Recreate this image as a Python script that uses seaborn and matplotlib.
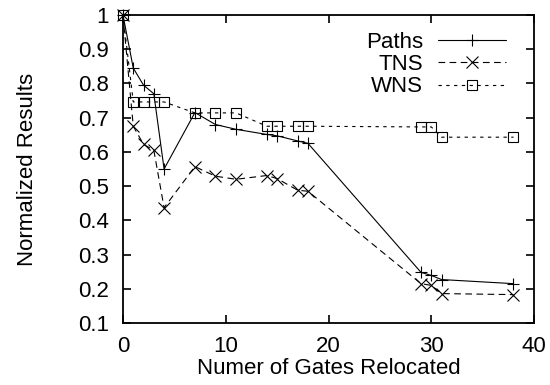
import matplotlib
matplotlib.use("Agg")
import matplotlib.pyplot as plt
import seaborn as sns

# values
gates = [0, 1, 2, 3, 4, 7, 9, 11, 14, 15, 17, 18, 29, 30, 31, 38]
paths = [1.0, 0.845, 0.795, 0.77, 0.55, 0.715, 0.68, 0.666, 0.651, 0.647,
         0.632, 0.625, 0.248, 0.239, 0.227, 0.215]
tns = [1.0, 0.675, 0.622, 0.605, 0.437, 0.557, 0.529, 0.52, 0.531, 0.522,
       0.488, 0.485, 0.215, 0.21, 0.186, 0.183]
wns = [1.0, 0.746, 0.746, 0.746, 0.746, 0.714, 0.714, 0.714, 0.675, 0.675,
       0.675, 0.675, 0.673, 0.673, 0.643, 0.643]

sns.set_style("ticks")
plt.rcParams["font.family"] = ["Liberation Sans", "DejaVu Sans"]
plt.rcParams["text.color"] = "black"
plt.rcParams["axes.labelcolor"] = "black"

fig = plt.figure(figsize=(5.5, 3.85), dpi=100)
ax = fig.add_axes([0.2236, 0.161, 0.7474, 0.8])

common = dict(ax=ax, color="black", lw=0.8, markeredgecolor="black",
              markeredgewidth=0.8, clip_on=False)
sns.lineplot(x=gates, y=paths, marker="+", markersize=9, label="Paths",
             linestyle="-", **common)
sns.lineplot(x=gates, y=tns, marker="x", markersize=8, label="TNS",
             dashes=(6, 4), **common)
sns.lineplot(x=gates, y=wns, marker="s", markersize=7, markerfacecolor="none",
             label="WNS", dashes=(3, 4), **common)

fs = 16
ax.set_xlim(0, 40)
ax.set_ylim(0.1, 1)
ax.set_xticks([0, 10, 20, 30, 40])
yt = [0.1, 0.2, 0.3, 0.4, 0.5, 0.6, 0.7, 0.8, 0.9, 1.0]
ax.set_yticks(yt)
ax.set_yticklabels([f"{v:g}" for v in yt])
ax.tick_params(direction="in", length=6, width=1.2, labelsize=fs,
               top=True, right=True, colors="black")
ax.tick_params(axis="x", pad=9)
ax.tick_params(axis="y", pad=10)
for s in ax.spines.values():
    s.set_linewidth(1.3)
    s.set_color("black")

ax.set_xlabel("Numer of Gates Relocated", fontsize=fs, labelpad=1)
ax.set_ylabel("Normalized Results", fontsize=fs, labelpad=29)

leg = ax.legend(loc="upper right", bbox_to_anchor=(0.97, 0.995), frameon=False,
                markerfirst=False, fontsize=fs, handlelength=3.05,
                handletextpad=0.68, labelspacing=0.05, borderpad=0.2)

fig.savefig("out.png", dpi=100)
